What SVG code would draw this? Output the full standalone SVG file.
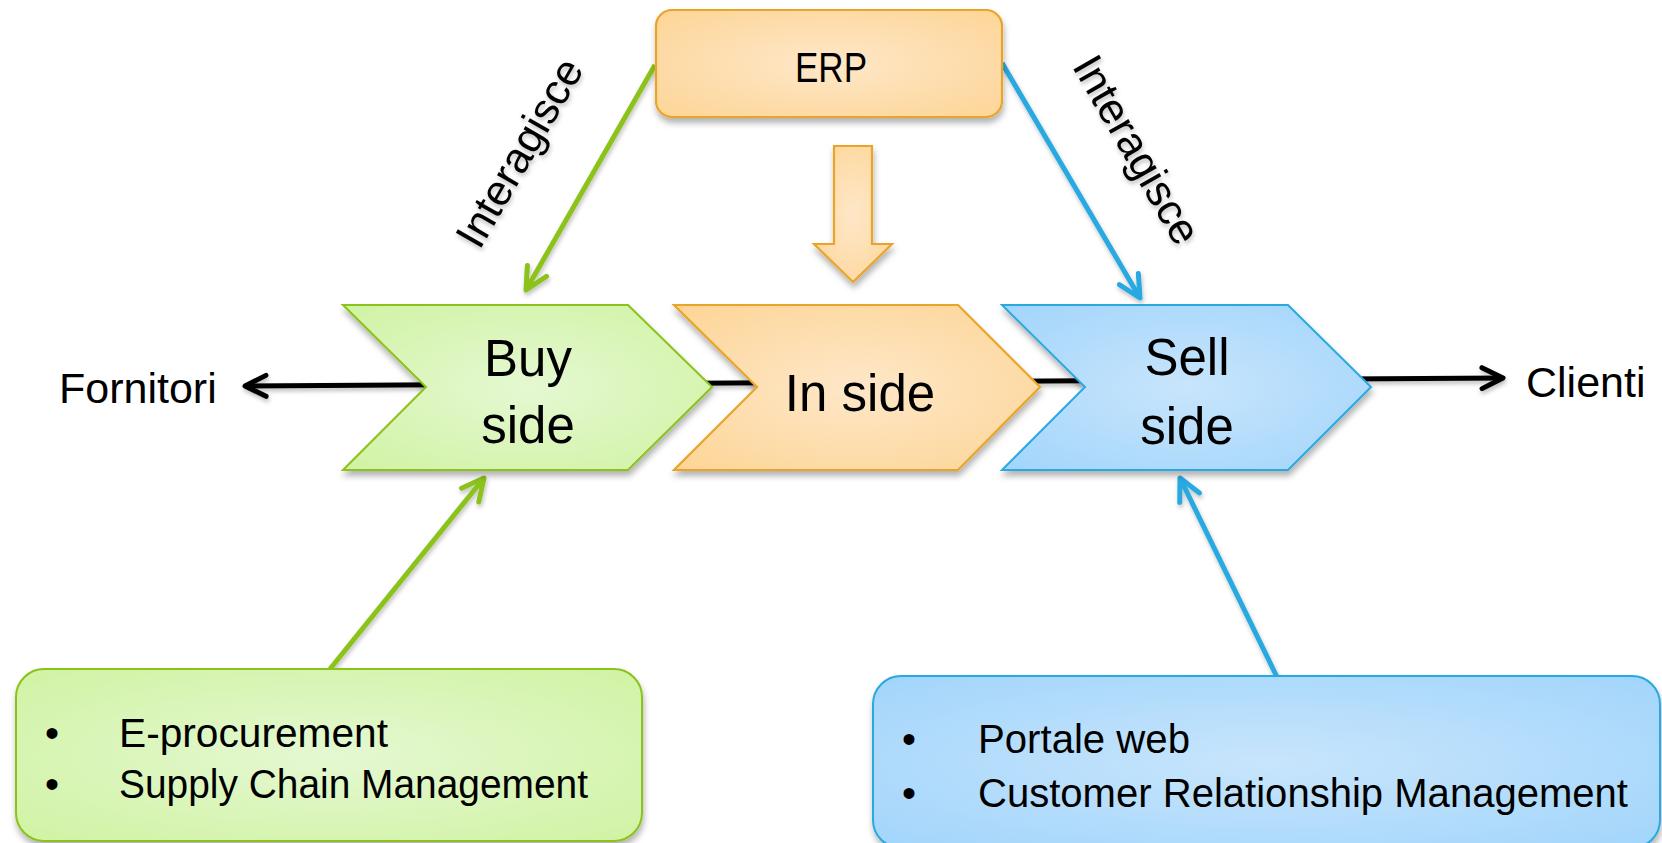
<svg xmlns="http://www.w3.org/2000/svg" width="1662" height="843" viewBox="0 0 1662 843">
<style>
text{font-family:"Liberation Sans",Arial,sans-serif;fill:#000}
.lbl{font-size:43px}
.big{font-size:51px;text-anchor:middle}
.bul{font-size:40px}
.dot{font-size:40px;text-anchor:middle}
.gr{fill:url(#gGreen);stroke:#8cc21a;stroke-width:2}
.or{fill:url(#gOrange);stroke:#e9a52b;stroke-width:2.2}
.bl{fill:url(#gBlue);stroke:#29a9e1;stroke-width:2}
.c{fill:none;stroke-width:5;stroke-linecap:butt}
</style>
<defs>
<radialGradient id="gGreen" cx="0.5" cy="0.5" r="0.7">
<stop offset="0" stop-color="#e5f8d2"/><stop offset="1" stop-color="#d0f3a3"/>
</radialGradient>
<radialGradient id="gOrange" cx="0.5" cy="0.5" r="0.7">
<stop offset="0" stop-color="#fee7c8"/><stop offset="1" stop-color="#fdd596"/>
</radialGradient>
<radialGradient id="gBlue" cx="0.5" cy="0.5" r="0.7">
<stop offset="0" stop-color="#c8e5fc"/><stop offset="1" stop-color="#a2d5fb"/>
</radialGradient>
<filter id="sh" x="-10%" y="-10%" width="120%" height="130%">
<feDropShadow dx="1" dy="5" stdDeviation="3" flood-color="#000" flood-opacity="0.3"/>
</filter>
<filter id="shl" x="-10%" y="-10%" width="120%" height="130%">
<feDropShadow dx="1" dy="3" stdDeviation="2" flood-color="#000" flood-opacity="0.25"/>
</filter>
<marker id="mBlack" markerUnits="userSpaceOnUse" markerWidth="30" markerHeight="30" refX="0" refY="0" orient="auto-start-reverse" overflow="visible">
<path d="M-21,-10.5 L0,0 L-21,10.5" fill="none" stroke="#000" stroke-width="5" stroke-linecap="round" stroke-linejoin="round"/>
</marker>
<marker id="mGreen" markerUnits="userSpaceOnUse" markerWidth="30" markerHeight="30" refX="0" refY="0" orient="auto" overflow="visible">
<path d="M-22,-11 L0,0 L-22,11" fill="none" stroke="#8cc21a" stroke-width="5" stroke-linecap="round" stroke-linejoin="round"/>
</marker>
<marker id="mBlue" markerUnits="userSpaceOnUse" markerWidth="30" markerHeight="30" refX="0" refY="0" orient="auto" overflow="visible">
<path d="M-22,-11 L0,0 L-22,11" fill="none" stroke="#29a9e1" stroke-width="5" stroke-linecap="round" stroke-linejoin="round"/>
</marker>
</defs>
<rect width="1662" height="843" fill="#fff"/>

<g id="connectors" filter="url(#shl)">
<line class="c" x1="245" y1="386" x2="1503" y2="378" stroke="#000" stroke-width="4.5" marker-start="url(#mBlack)" marker-end="url(#mBlack)"/>
<line class="c" x1="655" y1="65" x2="526" y2="290" stroke="#8cc21a" marker-end="url(#mGreen)"/>
<line class="c" x1="1002" y1="63" x2="1140" y2="298" stroke="#29a9e1" marker-end="url(#mBlue)"/>
<line class="c" x1="330" y1="669" x2="484" y2="478" stroke="#8cc21a" marker-end="url(#mGreen)"/>
<line class="c" x1="1277" y1="677" x2="1180" y2="478" stroke="#29a9e1" marker-end="url(#mBlue)"/>
<text class="lbl" transform="translate(532,160) rotate(-60)" text-anchor="middle">Interagisce</text>
<text class="lbl" transform="translate(1124,157) rotate(60)" text-anchor="middle">Interagisce</text>
</g>

<g id="erp">
<rect class="or" x="656" y="10" width="346" height="107" rx="16" filter="url(#sh)"/>
<text x="831" y="82" font-size="42" text-anchor="middle" textLength="72" lengthAdjust="spacingAndGlyphs">ERP</text>
</g>

<g id="erp-down-arrow">
<polygon class="or" points="834,146 872,146 872,244 892,244 853,282 814,244 834,244" filter="url(#sh)"/>
</g>

<g id="buy-side">
<polygon class="gr" points="343,305 628,305 712,387 628,470 343,470 426,387" filter="url(#sh)"/>
<text class="big" x="528" y="376">Buy</text>
<text class="big" x="528" y="443">side</text>
</g>

<g id="in-side">
<polygon class="or" points="674,305 958,305 1040,387 958,470 674,470 757,387" filter="url(#sh)"/>
<text class="big" x="860" y="411">In side</text>
</g>

<g id="sell-side">
<polygon class="bl" points="1002,305 1288,305 1371,387 1288,470 1002,470 1085,387" filter="url(#sh)"/>
<text class="big" x="1187" y="375">Sell</text>
<text class="big" x="1187" y="444">side</text>
</g>

<g id="fornitori">
<text class="lbl" x="59" y="403">Fornitori</text>
</g>

<g id="clienti">
<text class="lbl" x="1526" y="397">Clienti</text>
</g>

<g id="buy-tools">
<rect class="gr" x="16" y="669" width="626" height="172" rx="28" filter="url(#sh)"/>
<text class="dot" x="52" y="747">•</text>
<text class="bul" x="119" y="747" textLength="269" lengthAdjust="spacingAndGlyphs">E-procurement</text>
<text class="dot" x="52" y="798">•</text>
<text class="bul" x="119" y="798" textLength="469" lengthAdjust="spacingAndGlyphs">Supply Chain Management</text>
</g>

<g id="sell-tools">
<rect class="bl" x="873" y="676" width="787" height="172" rx="28" filter="url(#sh)"/>
<text class="dot" x="909" y="753">•</text>
<text class="bul" x="978" y="753" textLength="212" lengthAdjust="spacingAndGlyphs">Portale web</text>
<text class="dot" x="909" y="807">•</text>
<text class="bul" x="978" y="807" textLength="650" lengthAdjust="spacingAndGlyphs">Customer Relationship Management</text>
</g>
</svg>
